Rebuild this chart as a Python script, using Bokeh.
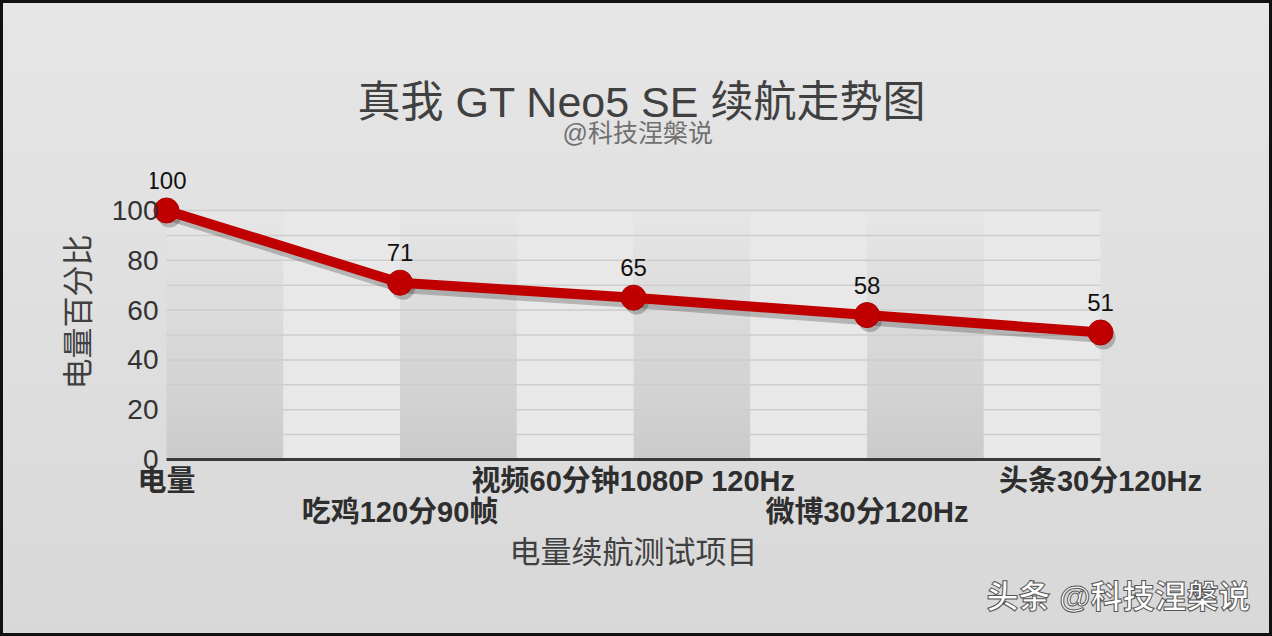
from bokeh.plotting import figure
from bokeh.models import Range1d, FixedTicker, LinearAxis, Title, LabelSet, ColumnDataSource
from bokeh.core.properties import value
from bokeh.transform import dodge
from bokeh.embed import file_html
from bokeh.resources import INLINE

# ---------------- data ----------------
categories = ["电量", "吃鸡120分90帧", "视频60分钟1080P 120Hz", "微博30分120Hz", "头条30分120Hz"]
values = [100, 71, 65, 58, 51]
value_labels = ["100", "71", "65", "58", "51"]
y_ticks = [0, 20, 40, 60, 80, 100]
grid_levels = [10, 20, 30, 40, 50, 60, 70, 80, 90, 100]
title_text = "真我 GT Neo5 SE 续航走势图"
subtitle_text = "@科技涅槃说"
x_title = "电量续航测试项目"
y_title = "电量百分比"
watermark_text = "头条 @科技涅槃说"

FONT = "Liberation Sans, Noto Sans CJK SC"
xs = list(range(len(categories)))
n = len(categories)

p = figure(width=1272, height=636, output_backend="svg", toolbar_location=None,
           title_location=None,
           x_range=Range1d(-0.0685, (n - 1) + 0.0685), y_range=Range1d(-1.606, 120.08),
           min_border_left=150, min_border_right=156, min_border_top=160, min_border_bottom=173)
p.border_fill_color = None
p.background_fill_color = None
p.outline_line_color = None
p.grid.visible = False
p.styles = {"background": "linear-gradient(#e6e6e6, #d8d8d8)",
            "box-shadow": "inset 0 0 0 3px #111"}

# ---------------- bands ----------------
ymax = y_ticks[-1]
steps = 30
def mix(c0, c1, t):
    return "#%02x%02x%02x" % tuple(int(round(a + (b - a) * t)) for a, b in zip(c0, c1))
bot = (0xcb, 0xcb, 0xcb)
top = (0xe6, 0xe6, 0xe6)
ql, qr, qb, qt, qc = [], [], [], [], []
for i in xs[:-1]:
    for s in range(steps):
        ql.append(i); qr.append(i + 0.5)
        qb.append(ymax * s / steps); qt.append(ymax * (s + 1) / steps)
        qc.append(mix(bot, top, (s + 0.5) / steps))
p.quad(left=ql, right=qr, bottom=qb, top=qt, fill_color=qc, line_color=None)
p.quad(left=[i + 0.5 for i in xs[:-1]], right=[i + 1 for i in xs[:-1]],
       bottom=0, top=ymax, fill_color="#e8e8e8", line_color=None)

# grid lines
p.segment(x0=[xs[0]] * len(grid_levels), x1=[xs[-1]] * len(grid_levels),
          y0=grid_levels, y1=grid_levels, line_color="#cdcdcd", line_width=1.5)
# baseline
p.segment(x0=[xs[0]], x1=[xs[-1]], y0=[0], y1=[0], line_color="#3a3a3a", line_width=3)

# ---------------- series ----------------
src = ColumnDataSource(dict(x=xs, y=values, lab=value_labels))
p.line(x=dodge("x", 0.013, range=p.x_range), y=dodge("y", -2.0, range=p.y_range), source=src,
       line_color="#000000", line_alpha=0.22, line_width=11)
p.scatter(x=dodge("x", 0.013, range=p.x_range), y=dodge("y", -2.0, range=p.y_range), source=src,
          size=24, fill_color="#000000", fill_alpha=0.22, line_color=None)
p.line(x="x", y="y", source=src, line_color="#c00000", line_width=10)
p.scatter(x="x", y="y", source=src, size=25, fill_color="#c00000", line_color="#a80000", line_width=1)

p.add_layout(LabelSet(x="x", y="y", text="lab", source=src, y_offset=30, text_align="center",
                      text_baseline="middle", text_font=value(FONT), text_font_size="24px",
                      text_color="#111111"))

# ---------------- axes ----------------
ya = p.yaxis[0]
ya.ticker = FixedTicker(ticks=y_ticks)
ya.axis_line_color = None
ya.major_tick_line_color = None
ya.minor_tick_line_color = None
ya.major_tick_out = 0
ya.major_tick_in = 0
ya.major_label_text_font = FONT
ya.major_label_text_font_size = "28px"
ya.major_label_text_color = "#333333"
ya.major_label_standoff = -8
ya.axis_label = y_title
ya.axis_label_text_font = FONT
ya.axis_label_text_font_size = "31px"
ya.axis_label_text_font_style = "normal"
ya.axis_label_text_color = "#404040"
ya.axis_label_standoff = 13

def style_x(ax, labels, standoff):
    ax.ticker = FixedTicker(ticks=xs)
    ax.major_label_overrides = labels
    ax.axis_line_color = None
    ax.major_tick_line_color = None
    ax.minor_tick_line_color = None
    ax.major_tick_out = 0
    ax.major_tick_in = 0
    ax.major_label_text_font = FONT
    ax.major_label_text_font_size = "29px"
    ax.major_label_text_font_style = "bold"
    ax.major_label_text_color = "#2e2e2e"
    ax.major_label_standoff = standoff

xa1 = p.xaxis[0]
style_x(xa1, {i: (categories[i] if i % 2 == 0 else " ") for i in xs}, 1)
xa2 = LinearAxis()
style_x(xa2, {i: (categories[i] if i % 2 == 1 else " ") for i in xs}, -4)
xa2.axis_label = x_title
xa2.axis_label_text_font = FONT
xa2.axis_label_text_font_size = "31px"
xa2.axis_label_text_font_style = "normal"
xa2.axis_label_text_color = "#404040"
xa2.axis_label_standoff = 4
p.add_layout(xa2, "below")

# ---------------- titles ----------------
p.add_layout(Title(text=subtitle_text, align="left", offset=412, text_font=FONT, text_font_size="25px",
                   text_font_style="normal", text_color="#707070", standoff=27), "above")
p.add_layout(Title(text=title_text, align="left", offset=207, text_font=FONT, text_font_size="43px",
                   text_font_style="normal", text_color="#404040", standoff=-45), "above")
p.add_layout(Title(text=watermark_text, align="right", offset=-134, text_font=FONT,
                   text_font_size="32px", text_font_style="bold", text_color="#ffffff",
                   text_outline_color="#555555", standoff=8), "below")

open("out.html", "w").write(file_html(p, INLINE))
